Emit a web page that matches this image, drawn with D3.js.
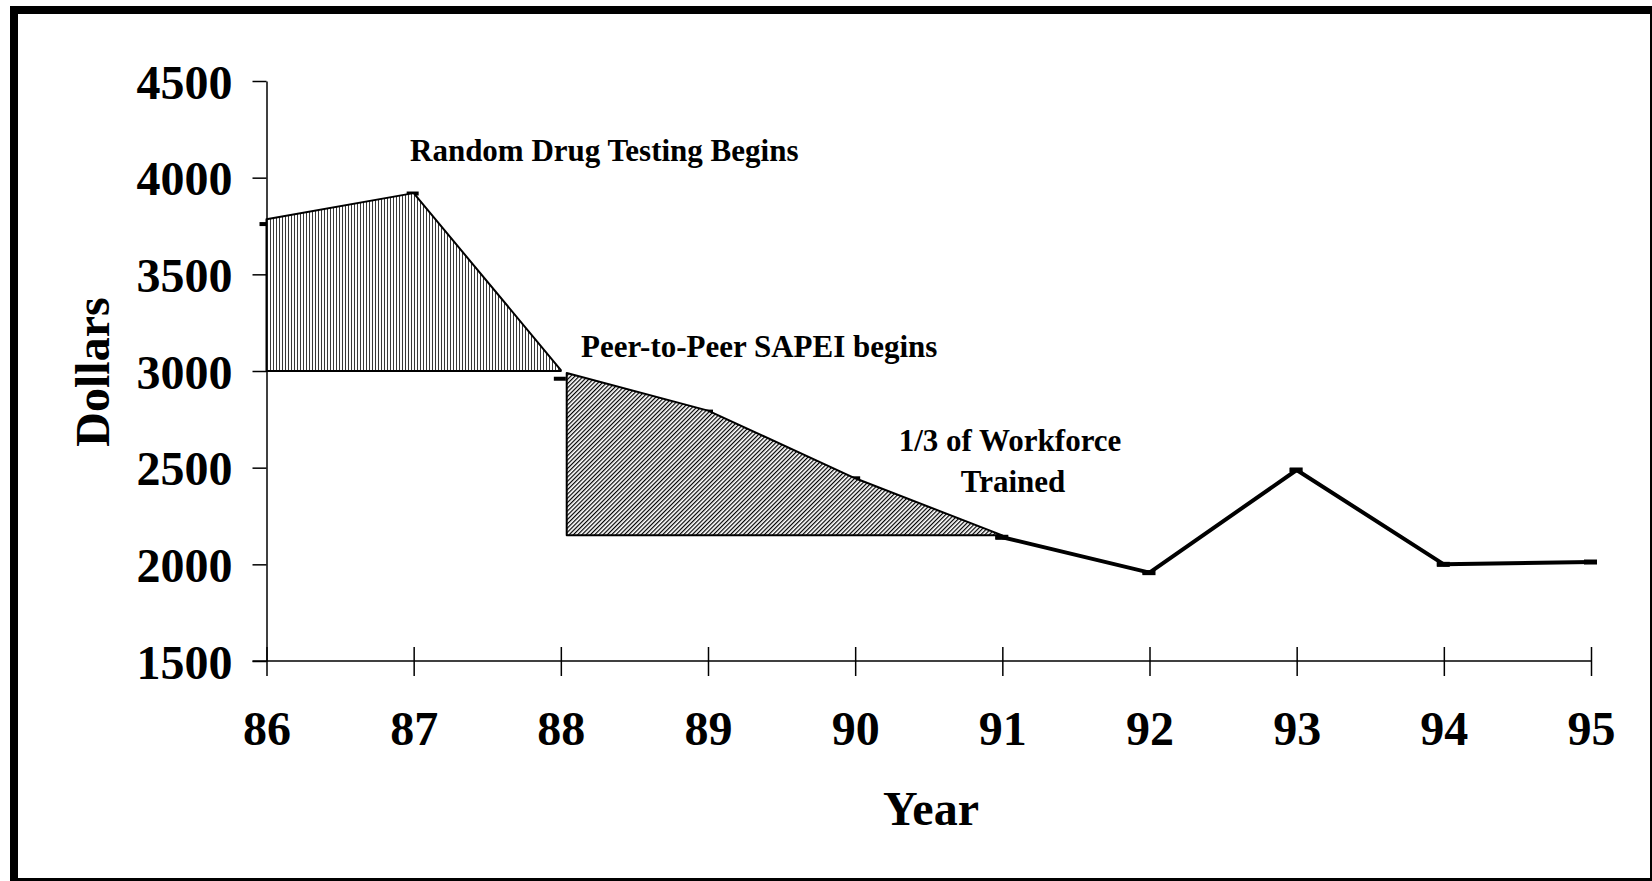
<!DOCTYPE html>
<html>
<head>
<meta charset="utf-8">
<script src="https://cdn.jsdelivr.net/npm/d3@7"></script>
<style>
  body { margin: 0; background: #fff; }
  svg { display: block; }
  text { font-family: "Liberation Serif", "Times New Roman", serif; font-weight: bold; fill: #000; }
</style>
</head>
<body>
<div id="chart"></div>
<script>
// data
var years = [86, 87, 88, 89, 90, 91, 92, 93, 94, 95];
var cost = [3760, 3918, 2960, 2790, 2445, 2140, 1957, 2488, 2000, 2012];
var yTicks = [1500, 2000, 2500, 3000, 3500, 4000, 4500];

// shaded overlays drawn over the line (as in the original)
var zone1Years = [86, 87, 88];
var zone1Top = [3785, 3920, 3005];
var zone1Base = 3000;
var zone2Years = [88.04, 89, 90, 91];
var zone2Top = [2990, 2795, 2445, 2150];
var zone2Base = 2150;

// thick part of the line (from 91 on)
var solidFrom = 91;

var W = 1652, H = 881;

var svg = d3.select("#chart").append("svg")
    .attr("width", W)
    .attr("height", H);

var x = d3.scaleLinear().domain([86, 95]).range([266.5, 1591]);
var y = d3.scaleLinear().domain([1500, 4500]).range([661, 81]);

// hatch patterns
var defs = svg.append("defs");
defs.append("pattern")
    .attr("id", "vhatch")
    .attr("patternUnits", "userSpaceOnUse")
    .attr("width", 3)
    .attr("height", 10)
    .append("line")
    .attr("x1", 0.5).attr("y1", 0).attr("x2", 0.5).attr("y2", 10)
    .style("stroke", "#3a3a3a")
    .style("stroke-width", 1);

defs.append("pattern")
    .attr("id", "dhatch")
    .attr("patternUnits", "userSpaceOnUse")
    .attr("width", 3)
    .attr("height", 10)
    .attr("patternTransform", "rotate(45)")
    .append("line")
    .attr("x1", 0.6).attr("y1", 0).attr("x2", 0.6).attr("y2", 10)
    .style("stroke", "#000")
    .style("stroke-width", 1.2);

// frame
svg.append("rect")
    .attr("x", 14)
    .attr("y", 10)
    .attr("width", 1640)
    .attr("height", 872)
    .style("fill", "none")
    .style("stroke", "#000")
    .style("stroke-width", 8);

// y axis
var yAxis = d3.axisLeft(y)
    .tickValues(yTicks)
    .tickSize(14)
    .tickSizeOuter(0)
    .tickPadding(20)
    .tickFormat(d3.format("d"));

var gy = svg.append("g")
    .attr("transform", "translate(" + x(86) + ",0)")
    .call(yAxis);
gy.select(".domain").style("stroke", "#000").style("stroke-width", 1.5);
gy.selectAll(".tick line").style("stroke", "#000").style("stroke-width", 1.5);
gy.selectAll(".tick text")
    .attr("dy", "0.36em")
    .style("font-family", '"Liberation Serif", "Times New Roman", serif')
    .style("font-weight", "bold")
    .style("font-size", "48px")
    .style("fill", "#000");

// x axis
var xAxis = d3.axisBottom(x)
    .tickValues(years)
    .tickSizeOuter(0)
    .tickFormat(d3.format("d"));

var gx = svg.append("g")
    .attr("transform", "translate(0," + y(1500) + ")")
    .call(xAxis);
gx.select(".domain").remove();
gx.insert("line", ":first-child")
    .attr("x1", x(86) - 14)
    .attr("x2", x(95))
    .style("stroke", "#000")
    .style("stroke-width", 1.5);
gx.selectAll(".tick line")
    .attr("y1", -14)
    .attr("y2", 15)
    .style("stroke", "#000")
    .style("stroke-width", 1.5);
gx.selectAll(".tick text")
    .attr("y", 84)
    .attr("dy", null)
    .style("font-family", '"Liberation Serif", "Times New Roman", serif')
    .style("font-weight", "bold")
    .style("font-size", "48px")
    .style("fill", "#000");

// markers under the shading
var data = years.map(function (d, i) { return { year: d, cost: cost[i] }; });

svg.selectAll(".marker")
    .data(data)
    .enter()
    .append("rect")
    .attr("class", "marker")
    .attr("x", function (d) { return x(d.year) - 7; })
    .attr("y", function (d) { return y(d.cost) - 2; })
    .attr("width", 12)
    .attr("height", 4)
    .style("fill", "#000");

// shaded zones
function zonePoints(ys, tops, base) {
    var pts = ys.map(function (d, i) { return [x(d), y(tops[i])]; });
    pts.push([x(ys[ys.length - 1]), y(base)]);
    pts.push([x(ys[0]), y(base)]);
    return pts;
}

var zones = [
    { pts: zonePoints(zone1Years, zone1Top, zone1Base), fill: "url(#vhatch)" },
    { pts: zonePoints(zone2Years, zone2Top, zone2Base), fill: "url(#dhatch)" }
];

svg.selectAll(".zone-bg")
    .data(zones)
    .enter()
    .append("polygon")
    .attr("points", function (d) { return d.pts.join(" "); })
    .style("fill", "#fff");

svg.selectAll(".zone")
    .data(zones)
    .enter()
    .append("polygon")
    .attr("class", "zone")
    .attr("points", function (d) { return d.pts.join(" "); })
    .style("fill", function (d) { return d.fill; })
    .style("stroke", "#000")
    .style("stroke-width", 2)
    .style("stroke-linejoin", "round");

// thick line after the shaded zones
var solid = data.filter(function (d) { return d.year >= solidFrom; });
var line = d3.line()
    .x(function (d) { return x(d.year); })
    .y(function (d) { return y(d.cost); });

svg.append("path")
    .datum(solid)
    .attr("d", line)
    .style("fill", "none")
    .style("stroke", "#000")
    .style("stroke-width", 4)
    .style("stroke-linejoin", "round");

svg.selectAll(".marker2")
    .data(solid)
    .enter()
    .append("rect")
    .attr("x", function (d) { return x(d.year) - 7; })
    .attr("y", function (d) { return y(d.cost) - 2.5; })
    .attr("width", 13)
    .attr("height", 5)
    .style("fill", "#000");

// axis titles
svg.append("text")
    .attr("x", 931)
    .attr("y", 825)
    .attr("text-anchor", "middle")
    .style("font-size", "48px")
    .text("Year");

svg.append("text")
    .attr("transform", "translate(109,372) rotate(-90)")
    .attr("text-anchor", "middle")
    .style("font-size", "48px")
    .text("Dollars");

// annotations
svg.append("text")
    .attr("x", 410)
    .attr("y", 161)
    .style("font-size", "31px")
    .text("Random Drug Testing Begins");

svg.append("text")
    .attr("x", 581)
    .attr("y", 357)
    .style("font-size", "31px")
    .text("Peer-to-Peer SAPEI begins");

svg.append("text")
    .attr("x", 1010)
    .attr("y", 451)
    .attr("text-anchor", "middle")
    .style("font-size", "31px")
    .text("1/3 of Workforce");

svg.append("text")
    .attr("x", 1013)
    .attr("y", 492)
    .attr("text-anchor", "middle")
    .style("font-size", "31px")
    .text("Trained");
</script>
</body>
</html>
